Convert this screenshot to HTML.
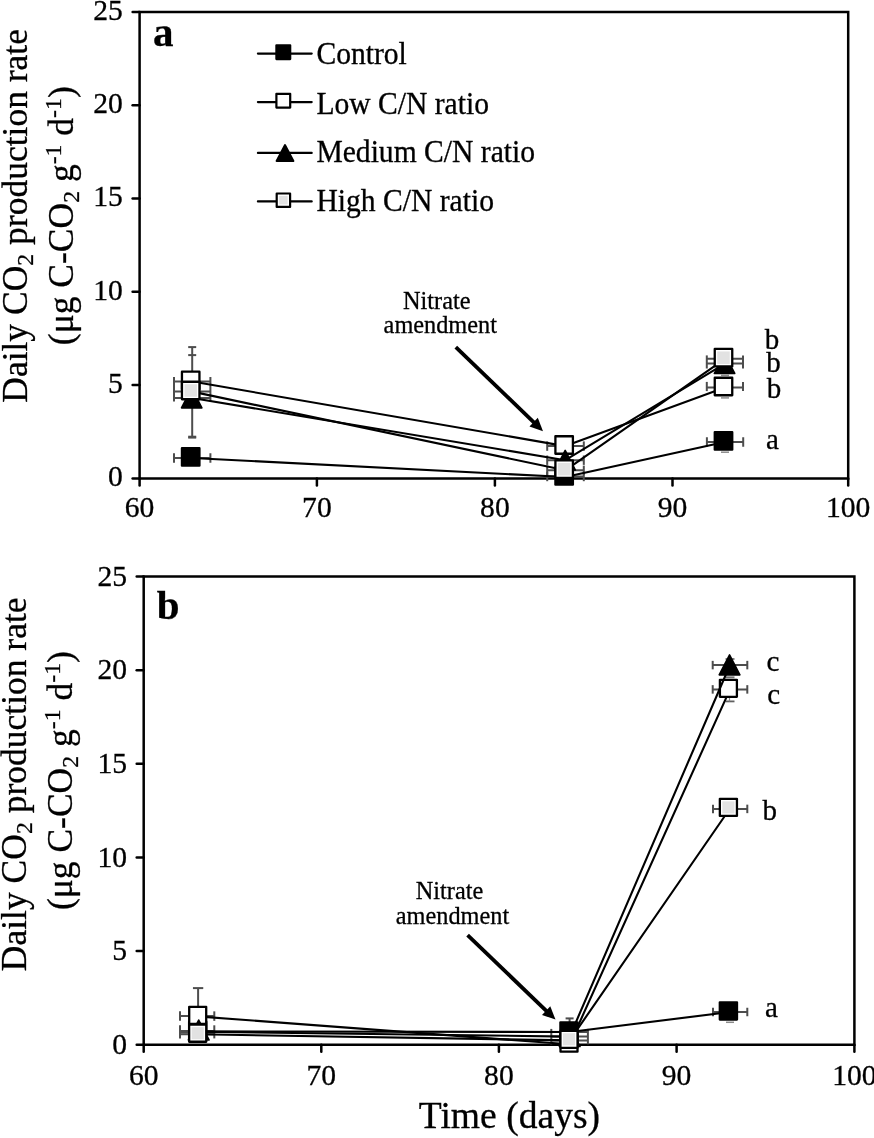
<!DOCTYPE html>
<html><head><meta charset="utf-8"><style>
html,body{margin:0;padding:0;background:#fff;}
svg{display:block;filter:grayscale(1);}
text{font-family:"Liberation Serif", serif;fill:#000;stroke:#000;stroke-width:0.3px;}
</style></head><body>
<svg width="874" height="1138" viewBox="0 0 874 1138">
<rect width="874" height="1138" fill="#fff"/>
<path d="M139.6,12.0 H848.2 V478.4 H139.6 Z" fill="none" stroke="#000" stroke-width="2.5" stroke-linejoin="miter"/>
<line x1="139.60" y1="478.40" x2="139.60" y2="485.40" stroke="#000" stroke-width="2.5" stroke-linecap="round"/>
<line x1="316.90" y1="478.40" x2="316.90" y2="485.40" stroke="#000" stroke-width="2.5" stroke-linecap="round"/>
<line x1="494.90" y1="478.40" x2="494.90" y2="485.40" stroke="#000" stroke-width="2.5" stroke-linecap="round"/>
<line x1="672.50" y1="478.40" x2="672.50" y2="485.40" stroke="#000" stroke-width="2.5" stroke-linecap="round"/>
<line x1="848.20" y1="478.40" x2="848.20" y2="485.40" stroke="#000" stroke-width="2.5" stroke-linecap="round"/>
<line x1="132.60" y1="12.00" x2="139.60" y2="12.00" stroke="#000" stroke-width="2.5" stroke-linecap="round"/>
<line x1="132.60" y1="105.28" x2="139.60" y2="105.28" stroke="#000" stroke-width="2.5" stroke-linecap="round"/>
<line x1="132.60" y1="198.56" x2="139.60" y2="198.56" stroke="#000" stroke-width="2.5" stroke-linecap="round"/>
<line x1="132.60" y1="291.84" x2="139.60" y2="291.84" stroke="#000" stroke-width="2.5" stroke-linecap="round"/>
<line x1="132.60" y1="385.12" x2="139.60" y2="385.12" stroke="#000" stroke-width="2.5" stroke-linecap="round"/>
<line x1="132.60" y1="478.40" x2="139.60" y2="478.40" stroke="#000" stroke-width="2.5" stroke-linecap="round"/>
<text x="139.60" y="516.90" font-size="29.6" text-anchor="middle" font-weight="normal" >60</text>
<text x="316.90" y="516.90" font-size="29.6" text-anchor="middle" font-weight="normal" >70</text>
<text x="494.90" y="516.90" font-size="29.6" text-anchor="middle" font-weight="normal" >80</text>
<text x="672.50" y="516.90" font-size="29.6" text-anchor="middle" font-weight="normal" >90</text>
<text x="848.20" y="516.90" font-size="29.6" text-anchor="middle" font-weight="normal" >100</text>
<text x="122.80" y="19.70" font-size="29.6" text-anchor="end" font-weight="normal" >25</text>
<text x="122.80" y="112.98" font-size="29.6" text-anchor="end" font-weight="normal" >20</text>
<text x="122.80" y="206.26" font-size="29.6" text-anchor="end" font-weight="normal" >15</text>
<text x="122.80" y="299.54" font-size="29.6" text-anchor="end" font-weight="normal" >10</text>
<text x="122.80" y="392.82" font-size="29.6" text-anchor="end" font-weight="normal" >5</text>
<text x="122.80" y="486.10" font-size="29.6" text-anchor="end" font-weight="normal" >0</text>
<text transform="translate(26.6,215.9) rotate(-90)" font-size="35.5" text-anchor="middle">Daily CO<tspan font-size="23.8" dy="6.4">2</tspan><tspan dy="-6.4"> production rate</tspan></text>
<text transform="translate(72.7,215.7) rotate(-90)" font-size="35.5" text-anchor="middle">(μg C-CO<tspan font-size="23.8" dy="6.4">2</tspan><tspan dy="-6.4"> g</tspan><tspan font-size="23.8" dy="-12">-1</tspan><tspan dy="12"> d</tspan><tspan font-size="23.8" dy="-12">-1</tspan><tspan dy="12">)</tspan></text>
<text x="153.00" y="46.30" font-size="41" text-anchor="start" font-weight="bold" >a</text>
<line x1="257.90" y1="53.60" x2="311.70" y2="53.60" stroke="#000" stroke-width="2.2" stroke-linecap="round"/>
<rect x="276.40" y="45.30" width="13.80" height="13.80" fill="#000" stroke="#000" stroke-width="2.2" stroke-linejoin="round"/>
<text transform="translate(316.40,63.70) scale(1,1.04)" font-size="29.6" text-anchor="start" font-weight="normal" >Control</text>
<line x1="257.90" y1="102.10" x2="311.70" y2="102.10" stroke="#000" stroke-width="2.2" stroke-linecap="round"/>
<rect x="276.40" y="93.80" width="13.80" height="13.80" fill="#fff" stroke="#000" stroke-width="2.2" stroke-linejoin="round"/>
<text transform="translate(316.40,113.70) scale(1,1.04)" font-size="29.6" text-anchor="start" font-weight="normal" >Low C/N ratio</text>
<line x1="257.90" y1="152.90" x2="311.70" y2="152.90" stroke="#000" stroke-width="2.2" stroke-linecap="round"/>
<path d="M285,145.2 L293.3,161.0 L276.7,161.0 Z" fill="#000" stroke="#000" stroke-width="2.2" stroke-linejoin="round"/>
<text transform="translate(316.40,161.80) scale(1,1.04)" font-size="29.6" text-anchor="start" font-weight="normal" >Medium C/N ratio</text>
<line x1="257.90" y1="201.40" x2="311.70" y2="201.40" stroke="#000" stroke-width="2.2" stroke-linecap="round"/>
<rect x="276.70" y="193.50" width="13.40" height="13.40" fill="#fff" stroke="#000" stroke-width="2.2" stroke-linejoin="round"/>
<rect x="279.15" y="195.95" width="8.50" height="8.50" fill="#e2e2e2"/>
<text transform="translate(316.40,210.90) scale(1,1.04)" font-size="29.6" text-anchor="start" font-weight="normal" >High C/N ratio</text>
<text x="436.80" y="308.60" font-size="24.3" text-anchor="middle" font-weight="normal" >Nitrate</text>
<text x="440.30" y="333.10" font-size="24.3" text-anchor="middle" font-weight="normal" >amendment</text>
<line x1="455.80" y1="347.20" x2="534.36" y2="422.87" stroke="#000" stroke-width="3.8" stroke-linecap="butt"/>
<path d="M543.00,431.20 L529.47,426.50 L537.80,417.86 Z" fill="#000"/>
<line x1="174.00" y1="458.00" x2="210.40" y2="458.00" stroke="#4d4d4d" stroke-width="2.0" stroke-linecap="butt"/>
<line x1="174.00" y1="453.25" x2="174.00" y2="462.75" stroke="#4d4d4d" stroke-width="2.0" stroke-linecap="butt"/>
<line x1="210.40" y1="453.25" x2="210.40" y2="462.75" stroke="#4d4d4d" stroke-width="2.0" stroke-linecap="butt"/>
<line x1="174.00" y1="381.50" x2="210.40" y2="381.50" stroke="#4d4d4d" stroke-width="2.0" stroke-linecap="butt"/>
<line x1="174.00" y1="391.60" x2="210.40" y2="391.60" stroke="#4d4d4d" stroke-width="2.0" stroke-linecap="butt"/>
<line x1="174.00" y1="398.00" x2="210.40" y2="398.00" stroke="#4d4d4d" stroke-width="2.0" stroke-linecap="butt"/>
<line x1="174.00" y1="377.00" x2="174.00" y2="401.60" stroke="#4d4d4d" stroke-width="2.0" stroke-linecap="butt"/>
<line x1="210.40" y1="377.00" x2="210.40" y2="401.60" stroke="#4d4d4d" stroke-width="2.0" stroke-linecap="butt"/>
<line x1="192.20" y1="347.10" x2="192.20" y2="436.70" stroke="#4d4d4d" stroke-width="2.0" stroke-linecap="butt"/>
<line x1="188.20" y1="347.10" x2="196.20" y2="347.10" stroke="#4d4d4d" stroke-width="2.0" stroke-linecap="butt"/>
<line x1="188.20" y1="436.70" x2="196.20" y2="436.70" stroke="#4d4d4d" stroke-width="2.0" stroke-linecap="butt"/>
<line x1="188.20" y1="355.10" x2="196.20" y2="355.10" stroke="#4d4d4d" stroke-width="2.0" stroke-linecap="butt"/>
<line x1="188.20" y1="437.60" x2="196.20" y2="437.60" stroke="#4d4d4d" stroke-width="2.0" stroke-linecap="butt"/>
<line x1="547.20" y1="446.10" x2="583.80" y2="446.10" stroke="#4d4d4d" stroke-width="2.0" stroke-linecap="butt"/>
<line x1="547.20" y1="460.20" x2="583.80" y2="460.20" stroke="#4d4d4d" stroke-width="2.0" stroke-linecap="butt"/>
<line x1="547.20" y1="470.30" x2="583.80" y2="470.30" stroke="#4d4d4d" stroke-width="2.0" stroke-linecap="butt"/>
<line x1="547.20" y1="476.50" x2="583.80" y2="476.50" stroke="#4d4d4d" stroke-width="2.0" stroke-linecap="butt"/>
<line x1="547.20" y1="441.40" x2="547.20" y2="450.80" stroke="#4d4d4d" stroke-width="2.0" stroke-linecap="butt"/>
<line x1="583.80" y1="441.40" x2="583.80" y2="450.80" stroke="#4d4d4d" stroke-width="2.0" stroke-linecap="butt"/>
<line x1="547.20" y1="455.50" x2="547.20" y2="464.90" stroke="#4d4d4d" stroke-width="2.0" stroke-linecap="butt"/>
<line x1="583.80" y1="455.50" x2="583.80" y2="464.90" stroke="#4d4d4d" stroke-width="2.0" stroke-linecap="butt"/>
<line x1="547.20" y1="465.60" x2="547.20" y2="475.00" stroke="#4d4d4d" stroke-width="2.0" stroke-linecap="butt"/>
<line x1="583.80" y1="465.60" x2="583.80" y2="475.00" stroke="#4d4d4d" stroke-width="2.0" stroke-linecap="butt"/>
<line x1="547.20" y1="471.80" x2="547.20" y2="481.20" stroke="#4d4d4d" stroke-width="2.0" stroke-linecap="butt"/>
<line x1="583.80" y1="471.80" x2="583.80" y2="481.20" stroke="#4d4d4d" stroke-width="2.0" stroke-linecap="butt"/>
<line x1="706.80" y1="358.80" x2="743.00" y2="358.80" stroke="#4d4d4d" stroke-width="2.0" stroke-linecap="butt"/>
<line x1="706.80" y1="363.60" x2="743.00" y2="363.60" stroke="#4d4d4d" stroke-width="2.0" stroke-linecap="butt"/>
<line x1="706.80" y1="355.40" x2="706.80" y2="368.50" stroke="#4d4d4d" stroke-width="2.0" stroke-linecap="butt"/>
<line x1="743.00" y1="355.40" x2="743.00" y2="368.50" stroke="#4d4d4d" stroke-width="2.0" stroke-linecap="butt"/>
<line x1="706.80" y1="387.60" x2="743.00" y2="387.60" stroke="#4d4d4d" stroke-width="2.0" stroke-linecap="butt"/>
<line x1="706.80" y1="381.90" x2="706.80" y2="391.10" stroke="#4d4d4d" stroke-width="2.0" stroke-linecap="butt"/>
<line x1="743.00" y1="381.90" x2="743.00" y2="391.10" stroke="#4d4d4d" stroke-width="2.0" stroke-linecap="butt"/>
<line x1="706.90" y1="442.00" x2="743.20" y2="442.00" stroke="#4d4d4d" stroke-width="2.0" stroke-linecap="butt"/>
<line x1="706.90" y1="437.25" x2="706.90" y2="446.75" stroke="#4d4d4d" stroke-width="2.0" stroke-linecap="butt"/>
<line x1="743.20" y1="437.25" x2="743.20" y2="446.75" stroke="#4d4d4d" stroke-width="2.0" stroke-linecap="butt"/>
<line x1="721.00" y1="375.40" x2="729.00" y2="375.40" stroke="#8c8c8c" stroke-width="1.5" stroke-linecap="butt"/>
<line x1="721.00" y1="397.90" x2="729.00" y2="397.90" stroke="#8c8c8c" stroke-width="1.5" stroke-linecap="butt"/>
<line x1="721.00" y1="452.20" x2="729.00" y2="452.20" stroke="#8c8c8c" stroke-width="1.5" stroke-linecap="butt"/>
<path d="M192.20,458.00 L565.30,477.00 L724.90,442.00" fill="none" stroke="#000" stroke-width="2.1" stroke-linejoin="round"/>
<rect x="181.95" y="448.15" width="17.50" height="17.50" fill="#000" stroke="#000" stroke-width="2.3" stroke-linejoin="round"/>
<rect x="555.40" y="467.15" width="17.50" height="17.50" fill="#000" stroke="#000" stroke-width="2.3" stroke-linejoin="round"/>
<rect x="714.75" y="432.15" width="17.50" height="17.50" fill="#000" stroke="#000" stroke-width="2.3" stroke-linejoin="round"/>
<path d="M192.20,381.50 L565.30,446.10 L724.90,387.60" fill="none" stroke="#000" stroke-width="2.1" stroke-linejoin="round"/>
<rect x="181.95" y="371.65" width="17.50" height="17.50" fill="#fff" stroke="#000" stroke-width="2.3" stroke-linejoin="round"/>
<rect x="555.40" y="436.25" width="17.50" height="17.50" fill="#fff" stroke="#000" stroke-width="2.3" stroke-linejoin="round"/>
<rect x="714.75" y="377.75" width="17.50" height="17.50" fill="#fff" stroke="#000" stroke-width="2.3" stroke-linejoin="round"/>
<path d="M192.20,398.00 L565.30,460.20 L724.90,363.60" fill="none" stroke="#000" stroke-width="2.1" stroke-linejoin="round"/>
<path d="M191.70,388.15 L201.90,407.85 L181.50,407.85 Z" fill="#000" stroke="#000" stroke-width="1.6" stroke-linejoin="round"/>
<path d="M565.20,450.35 L575.40,470.05 L555.00,470.05 Z" fill="#000" stroke="#000" stroke-width="1.6" stroke-linejoin="round"/>
<path d="M724.55,353.75 L734.75,373.45 L714.35,373.45 Z" fill="#000" stroke="#000" stroke-width="1.6" stroke-linejoin="round"/>
<path d="M192.20,391.60 L565.30,470.30 L724.90,358.80" fill="none" stroke="#000" stroke-width="2.1" stroke-linejoin="round"/>
<rect x="181.95" y="381.75" width="17.50" height="17.50" fill="#fff" stroke="#000" stroke-width="2.3" stroke-linejoin="round"/>
<rect x="184.45" y="384.25" width="12.50" height="12.50" fill="#e2e2e2"/>
<rect x="555.40" y="460.45" width="17.50" height="17.50" fill="#fff" stroke="#000" stroke-width="2.3" stroke-linejoin="round"/>
<rect x="557.90" y="462.95" width="12.50" height="12.50" fill="#e2e2e2"/>
<rect x="714.75" y="348.95" width="17.50" height="17.50" fill="#fff" stroke="#000" stroke-width="2.3" stroke-linejoin="round"/>
<rect x="717.25" y="351.45" width="12.50" height="12.50" fill="#e2e2e2"/>
<text x="764.80" y="349.20" font-size="29" text-anchor="start" font-weight="normal" >b</text>
<text x="766.20" y="372.00" font-size="29" text-anchor="start" font-weight="normal" >b</text>
<text x="766.80" y="397.70" font-size="29" text-anchor="start" font-weight="normal" >b</text>
<text x="766.00" y="448.50" font-size="29" text-anchor="start" font-weight="normal" >a</text>
<path d="M143.7,576.5 H854.4 V1044.7 H143.7 Z" fill="none" stroke="#000" stroke-width="2.5" stroke-linejoin="miter"/>
<line x1="143.70" y1="1044.70" x2="143.70" y2="1051.70" stroke="#000" stroke-width="2.5" stroke-linecap="round"/>
<line x1="321.30" y1="1044.70" x2="321.30" y2="1051.70" stroke="#000" stroke-width="2.5" stroke-linecap="round"/>
<line x1="498.90" y1="1044.70" x2="498.90" y2="1051.70" stroke="#000" stroke-width="2.5" stroke-linecap="round"/>
<line x1="676.60" y1="1044.70" x2="676.60" y2="1051.70" stroke="#000" stroke-width="2.5" stroke-linecap="round"/>
<line x1="854.40" y1="1044.70" x2="854.40" y2="1051.70" stroke="#000" stroke-width="2.5" stroke-linecap="round"/>
<line x1="136.70" y1="576.50" x2="143.70" y2="576.50" stroke="#000" stroke-width="2.5" stroke-linecap="round"/>
<line x1="136.70" y1="670.14" x2="143.70" y2="670.14" stroke="#000" stroke-width="2.5" stroke-linecap="round"/>
<line x1="136.70" y1="763.78" x2="143.70" y2="763.78" stroke="#000" stroke-width="2.5" stroke-linecap="round"/>
<line x1="136.70" y1="857.42" x2="143.70" y2="857.42" stroke="#000" stroke-width="2.5" stroke-linecap="round"/>
<line x1="136.70" y1="951.06" x2="143.70" y2="951.06" stroke="#000" stroke-width="2.5" stroke-linecap="round"/>
<line x1="136.70" y1="1044.70" x2="143.70" y2="1044.70" stroke="#000" stroke-width="2.5" stroke-linecap="round"/>
<text x="143.70" y="1084.70" font-size="29.6" text-anchor="middle" font-weight="normal" >60</text>
<text x="321.30" y="1084.70" font-size="29.6" text-anchor="middle" font-weight="normal" >70</text>
<text x="498.90" y="1084.70" font-size="29.6" text-anchor="middle" font-weight="normal" >80</text>
<text x="676.60" y="1084.70" font-size="29.6" text-anchor="middle" font-weight="normal" >90</text>
<text x="854.40" y="1084.70" font-size="29.6" text-anchor="middle" font-weight="normal" >100</text>
<text x="127.00" y="585.80" font-size="29.6" text-anchor="end" font-weight="normal" >25</text>
<text x="127.00" y="679.44" font-size="29.6" text-anchor="end" font-weight="normal" >20</text>
<text x="127.00" y="773.08" font-size="29.6" text-anchor="end" font-weight="normal" >15</text>
<text x="127.00" y="866.72" font-size="29.6" text-anchor="end" font-weight="normal" >10</text>
<text x="127.00" y="960.36" font-size="29.6" text-anchor="end" font-weight="normal" >5</text>
<text x="127.00" y="1054.00" font-size="29.6" text-anchor="end" font-weight="normal" >0</text>
<text transform="translate(25.7,784.3) rotate(-90)" font-size="35.5" text-anchor="middle">Daily CO<tspan font-size="23.8" dy="6.4">2</tspan><tspan dy="-6.4"> production rate</tspan></text>
<text transform="translate(71.8,780.6) rotate(-90)" font-size="35.5" text-anchor="middle">(μg C-CO<tspan font-size="23.8" dy="6.4">2</tspan><tspan dy="-6.4"> g</tspan><tspan font-size="23.8" dy="-12">-1</tspan><tspan dy="12"> d</tspan><tspan font-size="23.8" dy="-12">-1</tspan><tspan dy="12">)</tspan></text>
<text x="156.80" y="618.60" font-size="41" text-anchor="start" font-weight="bold" >b</text>
<text x="449.50" y="899.40" font-size="24.3" text-anchor="middle" font-weight="normal" >Nitrate</text>
<text x="452.50" y="923.60" font-size="24.3" text-anchor="middle" font-weight="normal" >amendment</text>
<line x1="467.60" y1="935.20" x2="546.84" y2="1011.29" stroke="#000" stroke-width="3.8" stroke-linecap="butt"/>
<path d="M555.50,1019.60 L541.97,1014.92 L550.28,1006.27 Z" fill="#000"/>
<text x="418.80" y="1127.80" font-size="37.6" text-anchor="start" font-weight="normal" >Time (days)</text>
<line x1="180.00" y1="1016.10" x2="214.30" y2="1016.10" stroke="#4d4d4d" stroke-width="2.0" stroke-linecap="butt"/>
<line x1="180.00" y1="1011.35" x2="180.00" y2="1020.85" stroke="#4d4d4d" stroke-width="2.0" stroke-linecap="butt"/>
<line x1="214.30" y1="1011.35" x2="214.30" y2="1020.85" stroke="#4d4d4d" stroke-width="2.0" stroke-linecap="butt"/>
<line x1="180.00" y1="1031.00" x2="214.30" y2="1031.00" stroke="#4d4d4d" stroke-width="2.0" stroke-linecap="butt"/>
<line x1="180.00" y1="1032.60" x2="214.30" y2="1032.60" stroke="#4d4d4d" stroke-width="2.0" stroke-linecap="butt"/>
<line x1="180.00" y1="1034.30" x2="214.30" y2="1034.30" stroke="#4d4d4d" stroke-width="2.0" stroke-linecap="butt"/>
<line x1="180.00" y1="1025.30" x2="180.00" y2="1038.40" stroke="#4d4d4d" stroke-width="2.0" stroke-linecap="butt"/>
<line x1="214.30" y1="1025.30" x2="214.30" y2="1038.40" stroke="#4d4d4d" stroke-width="2.0" stroke-linecap="butt"/>
<line x1="198.10" y1="988.10" x2="198.10" y2="1006.00" stroke="#4d4d4d" stroke-width="2.0" stroke-linecap="butt"/>
<line x1="192.95" y1="988.10" x2="203.25" y2="988.10" stroke="#4d4d4d" stroke-width="2.0" stroke-linecap="butt"/>
<line x1="551.30" y1="1032.00" x2="587.90" y2="1032.00" stroke="#4d4d4d" stroke-width="2.0" stroke-linecap="butt"/>
<line x1="551.30" y1="1036.60" x2="587.90" y2="1036.60" stroke="#4d4d4d" stroke-width="2.0" stroke-linecap="butt"/>
<line x1="551.30" y1="1040.40" x2="587.90" y2="1040.40" stroke="#4d4d4d" stroke-width="2.0" stroke-linecap="butt"/>
<line x1="551.30" y1="1028.90" x2="551.30" y2="1044.30" stroke="#4d4d4d" stroke-width="2.0" stroke-linecap="butt"/>
<line x1="587.90" y1="1028.90" x2="587.90" y2="1044.30" stroke="#4d4d4d" stroke-width="2.0" stroke-linecap="butt"/>
<line x1="565.60" y1="1018.40" x2="573.60" y2="1018.40" stroke="#4d4d4d" stroke-width="2.0" stroke-linecap="butt"/>
<line x1="569.60" y1="1018.40" x2="569.60" y2="1023.00" stroke="#4d4d4d" stroke-width="2.0" stroke-linecap="butt"/>
<line x1="712.70" y1="665.10" x2="747.30" y2="665.10" stroke="#4d4d4d" stroke-width="2.0" stroke-linecap="butt"/>
<line x1="712.70" y1="660.85" x2="712.70" y2="669.35" stroke="#4d4d4d" stroke-width="2.0" stroke-linecap="butt"/>
<line x1="747.30" y1="660.85" x2="747.30" y2="669.35" stroke="#4d4d4d" stroke-width="2.0" stroke-linecap="butt"/>
<line x1="712.70" y1="689.40" x2="747.30" y2="689.40" stroke="#4d4d4d" stroke-width="2.0" stroke-linecap="butt"/>
<line x1="712.70" y1="685.15" x2="712.70" y2="693.65" stroke="#4d4d4d" stroke-width="2.0" stroke-linecap="butt"/>
<line x1="747.30" y1="685.15" x2="747.30" y2="693.65" stroke="#4d4d4d" stroke-width="2.0" stroke-linecap="butt"/>
<line x1="725.50" y1="659.00" x2="734.50" y2="659.00" stroke="#707070" stroke-width="1.8" stroke-linecap="butt"/>
<line x1="725.50" y1="677.30" x2="734.50" y2="677.30" stroke="#707070" stroke-width="1.8" stroke-linecap="butt"/>
<line x1="725.50" y1="701.40" x2="734.50" y2="701.40" stroke="#606060" stroke-width="1.8" stroke-linecap="butt"/>
<line x1="729.50" y1="698.00" x2="729.50" y2="701.40" stroke="#888" stroke-width="1.2" stroke-linecap="butt"/>
<line x1="713.00" y1="808.90" x2="747.30" y2="808.90" stroke="#4d4d4d" stroke-width="2.0" stroke-linecap="butt"/>
<line x1="713.00" y1="804.65" x2="713.00" y2="813.15" stroke="#4d4d4d" stroke-width="2.0" stroke-linecap="butt"/>
<line x1="747.30" y1="804.65" x2="747.30" y2="813.15" stroke="#4d4d4d" stroke-width="2.0" stroke-linecap="butt"/>
<line x1="713.00" y1="1012.00" x2="747.30" y2="1012.00" stroke="#4d4d4d" stroke-width="2.0" stroke-linecap="butt"/>
<line x1="713.00" y1="1007.75" x2="713.00" y2="1016.25" stroke="#4d4d4d" stroke-width="2.0" stroke-linecap="butt"/>
<line x1="747.30" y1="1007.75" x2="747.30" y2="1016.25" stroke="#4d4d4d" stroke-width="2.0" stroke-linecap="butt"/>
<line x1="726.00" y1="1022.30" x2="734.00" y2="1022.30" stroke="#8c8c8c" stroke-width="1.5" stroke-linecap="butt"/>
<path d="M197.20,1031.40 L569.70,1032.00 L730.00,1012.00" fill="none" stroke="#000" stroke-width="2.1" stroke-linejoin="round"/>
<rect x="189.10" y="1021.70" width="17.20" height="17.20" fill="#000" stroke="#000" stroke-width="2.3" stroke-linejoin="round"/>
<rect x="560.40" y="1022.30" width="17.20" height="17.20" fill="#000" stroke="#000" stroke-width="2.3" stroke-linejoin="round"/>
<rect x="719.80" y="1002.30" width="17.20" height="17.20" fill="#000" stroke="#000" stroke-width="2.3" stroke-linejoin="round"/>
<path d="M197.20,1016.40 L569.70,1044.30 L730.00,689.40" fill="none" stroke="#000" stroke-width="2.1" stroke-linejoin="round"/>
<rect x="189.20" y="1006.80" width="17.00" height="17.00" fill="#fff" stroke="#000" stroke-width="2.3" stroke-linejoin="round"/>
<rect x="560.50" y="1034.70" width="17.00" height="17.00" fill="#fff" stroke="#000" stroke-width="2.3" stroke-linejoin="round"/>
<rect x="719.90" y="679.80" width="17.00" height="17.00" fill="#fff" stroke="#000" stroke-width="2.3" stroke-linejoin="round"/>
<path d="M197.20,1031.70 L569.70,1036.60 L730.00,665.00" fill="none" stroke="#000" stroke-width="2.1" stroke-linejoin="round"/>
<path d="M198.70,1020.05 L209.05,1039.95 L188.35,1039.95 Z" fill="#000" stroke="#000" stroke-width="1.6" stroke-linejoin="round"/>
<path d="M569.70,1026.65 L580.05,1046.55 L559.35,1046.55 Z" fill="#000" stroke="#000" stroke-width="1.6" stroke-linejoin="round"/>
<path d="M729.55,654.95 L739.90,674.85 L719.20,674.85 Z" fill="#000" stroke="#000" stroke-width="1.6" stroke-linejoin="round"/>
<path d="M197.20,1034.30 L569.70,1040.40 L730.00,808.50" fill="none" stroke="#000" stroke-width="2.1" stroke-linejoin="round"/>
<rect x="189.15" y="1024.65" width="17.10" height="17.10" fill="#fff" stroke="#000" stroke-width="2.3" stroke-linejoin="round"/>
<rect x="191.65" y="1027.15" width="12.10" height="12.10" fill="#e2e2e2"/>
<rect x="560.45" y="1030.75" width="17.10" height="17.10" fill="#fff" stroke="#000" stroke-width="2.3" stroke-linejoin="round"/>
<rect x="562.95" y="1033.25" width="12.10" height="12.10" fill="#e2e2e2"/>
<rect x="719.85" y="798.85" width="17.10" height="17.10" fill="#fff" stroke="#000" stroke-width="2.3" stroke-linejoin="round"/>
<rect x="722.35" y="801.35" width="12.10" height="12.10" fill="#e2e2e2"/>
<text x="766.50" y="670.80" font-size="29" text-anchor="start" font-weight="normal" >c</text>
<text x="767.20" y="704.40" font-size="29" text-anchor="start" font-weight="normal" >c</text>
<text x="762.50" y="819.90" font-size="29" text-anchor="start" font-weight="normal" >b</text>
<text x="765.00" y="1017.10" font-size="29" text-anchor="start" font-weight="normal" >a</text>
</svg></body></html>
